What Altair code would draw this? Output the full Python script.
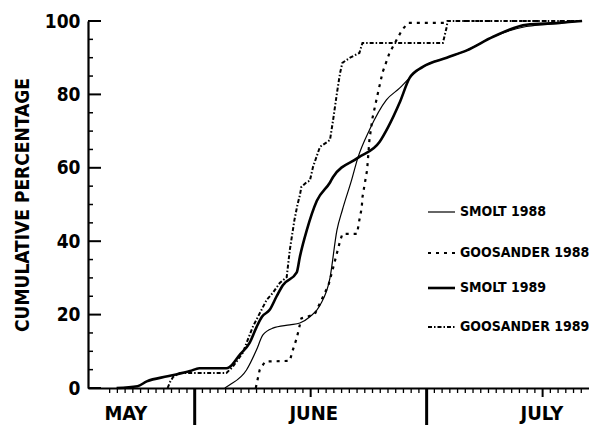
import altair as alt
import pandas as pd

# ---- data (x = day counted from 1 May; 31 = May/June boundary, 61 = June/July) ----
smolt88_day = [34.9, 35.5, 37.7, 39.0, 39.8, 41.1, 43.3, 44.6, 45.9, 47.2, 48.5, 49.4, 50.1, 51.3, 52.1,
               53.6, 55.8, 57.5, 58.8, 60.5, 63.6, 66.2, 69.6, 73.9, 76.3, 81.1]
smolt88_pct = [0, 0.8, 4.9, 10.4, 14.4, 16.3, 17.2, 17.7, 19.4, 22.5, 30, 43, 48.5, 56.7, 62.7,
               70.3, 78.5, 81.7, 84.5, 87.5, 90, 92, 95.7, 98.5, 99, 100]

goos88_day = [38.9, 39.4, 40.1, 43.3, 43.7, 44.2, 44.8, 46.5, 48.3, 48.9, 49.8, 50.1, 52.0, 52.3, 52.6,
              52.7, 53.3, 53.6, 54.0, 54.7, 55.3, 56.2, 57.1, 57.8, 58.6, 63.6, 63.7, 81.1]
goos88_pct = [0, 4.9, 7.2, 7.4, 10.4, 13.6, 19, 20, 28, 32.7, 40, 42, 42, 45.8, 49,
              52, 59.4, 67.6, 73.6, 80.4, 86, 91.3, 94.8, 97.5, 99.5, 99.5, 100, 100]

smolt89_day = [20.9, 23.6, 24.8, 27.5, 30.4, 31.6, 35.1, 35.5, 36.8, 38.1, 39.0, 39.7, 40.7, 41.6, 42.4,
               44.2, 44.6, 45.5, 46.8, 48.5, 48.9, 52.1, 54.9, 56.0, 57.5, 58.8, 60.5, 63.6, 66.2, 69.6,
               73.9, 78.2, 81.1]
smolt89_pct = [0, 0.5, 1.8, 3.2, 4.6, 5.4, 5.4, 5.7, 9, 12.3, 16.6, 19.4, 21.3, 25, 28,
               31.5, 35.7, 43, 51, 56, 57.5, 62.7, 67, 71, 77.7, 84.5, 87.5, 90, 92, 95.7,
               99, 99.5, 100]

goos89_day = [27.5, 27.8, 28.2, 29.1, 35.1, 35.9, 37.2, 38.5, 40.3, 41.1, 42.0, 42.9, 43.3, 43.9, 44.3,
              44.6, 44.8, 45.5, 45.9, 46.3, 47.2, 48.1, 48.5, 48.9, 49.4, 49.8, 50.1, 51.1, 52.3, 52.7,
              63.1, 63.6, 63.7, 81.1]
goos89_pct = [0, 1.6, 3, 4.1, 4.1, 5.7, 9.5, 16.6, 24, 25.9, 28.6, 30.2, 37.6, 45.8, 50,
              52.5, 54.8, 56.1, 56.5, 60.2, 65.7, 67, 67.6, 73, 80.4, 85.8, 88.6, 90, 91.3, 94,
              94, 98.4, 100, 100]

legend_labels = ["SMOLT 1988", "GOOSANDER 1988", "SMOLT 1989", "GOOSANDER 1989"]
months = ["MAY", "JUNE", "JULY"]
month_label_day = [22.1, 46.4, 75.9]
month_bounds = [31, 61]
mid_month = [46, 76]
day_ticks = [d for d in range(20, 82) if d not in (31, 61, 46, 76)]
y_major = [0, 20, 40, 60, 80, 100]
y_minor = [5, 10, 15, 25, 30, 35, 45, 50, 55, 65, 70, 75, 85, 90, 95]

FONT = "DejaVu Sans Condensed, Liberation Sans Narrow, sans-serif"
W, H = 501, 367
xs = alt.Scale(domain=[17.2, 82], nice=False, zero=False)
ys = alt.Scale(domain=[0, 100], nice=False)

styles = [
    dict(strokeWidth=1.2),
    dict(strokeWidth=2.2, strokeDash=[3, 5]),
    dict(strokeWidth=2.6),
    dict(strokeWidth=2.0, strokeDash=[4, 2, 1.5, 2]),
]
interps = ["monotone", "linear", "monotone", "linear"]
series = [(smolt88_day, smolt88_pct), (goos88_day, goos88_pct),
          (smolt89_day, smolt89_pct), (goos89_day, goos89_pct)]

layers = []
for i, ((ds, ps), st, ip) in enumerate(zip(series, styles, interps)):
    df = pd.DataFrame({"day": ds, "pct": ps})
    if i == 0:
        xenc = alt.X("day:Q", scale=xs, axis=alt.Axis(labels=False, ticks=False, title=None, grid=False,
                                                        domainWidth=2.2, domainColor="black"))
        yenc = alt.Y("pct:Q", scale=ys, axis=alt.Axis(values=y_major, ticks=False, grid=False,
                                                       labelFont=FONT, labelFontSize=19, labelFontWeight="bold",
                                                       labelColor="black", labelPadding=8,
                                                       domainWidth=2.2, domainColor="black",
                                                       title="CUMULATIVE  PERCENTAGE", titleFont=FONT,
                                                       titleFontSize=19, titleFontWeight="bold",
                                                       titleColor="black", titlePadding=12))
    else:
        xenc = alt.X("day:Q", scale=xs)
        yenc = alt.Y("pct:Q", scale=ys)
    layers.append(alt.Chart(df).mark_line(color="black", interpolate=ip, **st).encode(x=xenc, y=yenc))

# y ticks (inward)
layers.append(alt.Chart(pd.DataFrame({"v": y_major})).mark_rule(color="black", strokeWidth=2)
              .encode(y=alt.Y("v:Q", scale=ys), x=alt.value(0), x2=alt.value(13)))
layers.append(alt.Chart(pd.DataFrame({"v": y_minor})).mark_rule(color="black", strokeWidth=1.5)
              .encode(y=alt.Y("v:Q", scale=ys), x=alt.value(0), x2=alt.value(5)))
# x ticks
layers.append(alt.Chart(pd.DataFrame({"d": day_ticks})).mark_rule(color="black", strokeWidth=1.3)
              .encode(x=alt.X("d:Q", scale=xs), y=alt.value(H), y2=alt.value(H + 5)))
layers.append(alt.Chart(pd.DataFrame({"d": mid_month})).mark_rule(color="black", strokeWidth=2)
              .encode(x=alt.X("d:Q", scale=xs), y=alt.value(H), y2=alt.value(H + 9)))
layers.append(alt.Chart(pd.DataFrame({"d": month_bounds})).mark_rule(color="black", strokeWidth=3)
              .encode(x=alt.X("d:Q", scale=xs), y=alt.value(H), y2=alt.value(H + 40)))
layers.append(alt.Chart(pd.DataFrame({"m": months, "d": month_label_day}))
              .mark_text(font=FONT, fontSize=20, fontWeight="bold", color="black", baseline="middle", align="center")
              .encode(x=alt.X("d:Q", scale=xs), y=alt.value(H + 26), text="m:N"))

# legend (manual)
leg_y = [191, 232, 267, 306]
for lab, st, yy in zip(legend_labels, styles, leg_y):
    layers.append(alt.Chart(pd.DataFrame({"l": [lab]})).mark_rule(color="black", **st)
                  .encode(x=alt.value(340), x2=alt.value(367), y=alt.value(yy)))
    layers.append(alt.Chart(pd.DataFrame({"l": [lab]}))
                  .mark_text(font=FONT, fontSize=14, fontWeight="bold", color="black", align="left", baseline="middle")
                  .encode(x=alt.value(372), y=alt.value(yy), text="l:N"))

chart = alt.layer(*layers).properties(
    width=W, height=H,
    padding={"left": 88, "top": 21, "right": 0, "bottom": 37},
    autosize=alt.AutoSizeParams(type="none"),
    background="white",
).configure_view(stroke=None)

chart.save("out.html", embed_options={"renderer": "svg", "actions": False})
